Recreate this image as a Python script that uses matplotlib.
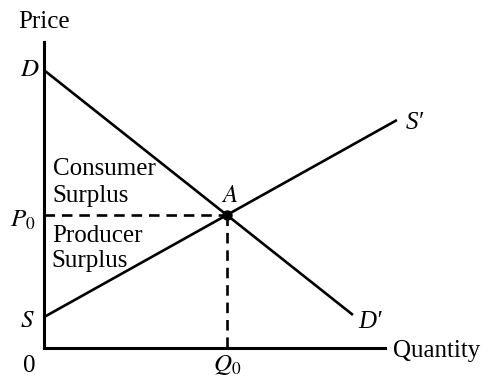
import matplotlib
matplotlib.use("Agg")
import matplotlib.pyplot as plt
import numpy as np

plt.rcParams['font.family'] = ['Liberation Serif', 'DejaVu Serif']
plt.rcParams['mathtext.fontset'] = 'stix'

# Data (abstract units)
demand_x = [0.0, 9.06]
demand_y = [9.08, 1.08]
supply_x = [0.0, 10.35]
supply_y = [1.01, 7.45]
xlim = (0, 10)
ylim = (0, 10)

# Equilibrium from line intersection
md = (demand_y[1] - demand_y[0]) / (demand_x[1] - demand_x[0])
ms = (supply_y[1] - supply_y[0]) / (supply_x[1] - supply_x[0])
q0 = (supply_y[0] - demand_y[0]) / (md - ms)
p0 = demand_y[0] + md * q0

fig = plt.figure(figsize=(4.88, 3.76), dpi=100)
ax = fig.add_axes([44/488, 28/376, 341/488, 306/376])
ax.set_xlim(*xlim)
ax.set_ylim(*ylim)
for s in ['top', 'right']:
    ax.spines[s].set_visible(False)
for s in ['left', 'bottom']:
    ax.spines[s].set_linewidth(2.2)
ax.set_xticks([])
ax.set_yticks([])
ax.patch.set_alpha(0)

lw = 1.9
ax.plot(demand_x, demand_y, color='black', lw=lw, clip_on=False, solid_capstyle='butt')
ax.plot(supply_x, supply_y, color='black', lw=lw, clip_on=False, solid_capstyle='butt')
ax.plot([0, q0], [p0, p0], color='black', lw=lw, ls=(0, (4, 2.6)), clip_on=False)
ax.plot([q0, q0], [p0, 0], color='black', lw=lw, ls=(0, (4, 2.6)), clip_on=False)
ax.plot([q0], [p0], 'o', color='black', ms=6.5, clip_on=False)

fs = 18
ax.text(0, 10.65, 'Price', ha='center', va='center', fontsize=fs)
ax.text(-0.12, demand_y[0], '$D$', ha='right', va='center', fontsize=fs)
ax.text(-0.25, 3.95, '$P_0$', ha='right', va='baseline', fontsize=fs)
ax.text(-0.26, 0.69, '$S$', ha='right', va='baseline', fontsize=fs)
ax.text(-0.26, -0.8, '0', ha='right', va='baseline', fontsize=fs)
ax.text(q0, -0.75, '$Q_0$', ha='center', va='baseline', fontsize=fs)
ax.text(q0 + 0.08, 4.77, '$A$', ha='center', va='baseline', fontsize=fs)
ax.text(10.62, 7.16, "S\u2032", ha='left', va='baseline', fontsize=fs, fontstyle='italic')
ax.text(9.21, 0.65, "D\u2032", ha='left', va='baseline', fontsize=fs, fontstyle='italic')
ax.text(10.23, -0.29, 'Quantity', ha='left', va='baseline', fontsize=fs)
ax.text(0.26, 5.65, 'Consumer', ha='left', va='baseline', fontsize=fs)
ax.text(0.26, 4.77, 'Surplus', ha='left', va='baseline', fontsize=fs)
ax.text(0.23, 3.46, 'Producer', ha='left', va='baseline', fontsize=fs)
ax.text(0.23, 2.65, 'Surplus', ha='left', va='baseline', fontsize=fs)

fig.savefig('out.png', dpi=100)
